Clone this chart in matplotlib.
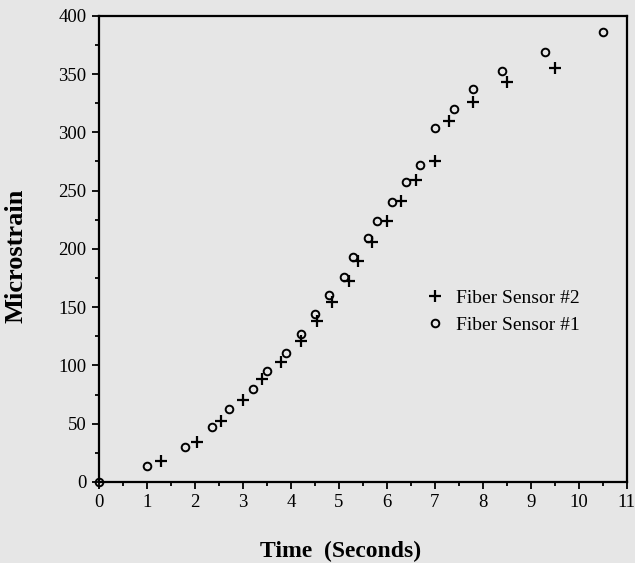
import matplotlib
matplotlib.use("Agg")
import matplotlib.pyplot as plt
from matplotlib.ticker import MultipleLocator

plt.rcParams['font.family'] = ['Liberation Serif', 'DejaVu Serif']

# Fiber Sensor #1 (circles)
time_s1 = [0, 1.0, 1.8, 2.35, 2.7, 3.2, 3.5, 3.9, 4.2, 4.5, 4.8, 5.1, 5.3,
           5.6, 5.8, 6.1, 6.4, 6.7, 7.0, 7.4, 7.8, 8.4, 9.3, 10.5]
strain_s1 = [0, 14, 30, 47, 63, 80, 95, 111, 127, 144, 160, 176, 193,
             209, 224, 240, 257, 272, 304, 320, 337, 353, 369, 386]

# Fiber Sensor #2 (plus)
time_s2 = [1.3, 2.05, 2.55, 3.0, 3.4, 3.8, 4.2, 4.55, 4.85, 5.2, 5.4, 5.7,
           6.0, 6.3, 6.6, 7.0, 7.3, 7.8, 8.5, 9.5]
strain_s2 = [18, 34, 52, 70, 88, 103, 121, 138, 154, 172, 190, 206,
             224, 241, 259, 275, 310, 326, 343, 355]

bg = '#e6e6e6'
fig = plt.figure(figsize=(6.35, 5.63), dpi=100, facecolor=bg)
ax = fig.add_axes([0.156, 0.144, 0.831, 0.828], facecolor=bg)

ax.plot(time_s2, strain_s2, linestyle='none', marker='+', ms=8, mew=1.6,
        color='black', label='Fiber Sensor #2', clip_on=False)
ax.plot(time_s1, strain_s1, linestyle='none', marker='o', ms=5.5, mew=1.4,
        mfc='none', mec='black', label='Fiber Sensor #1', clip_on=False)

ax.set_xlim(0, 11)
ax.set_ylim(0, 400)
ax.xaxis.set_major_locator(MultipleLocator(1))
ax.xaxis.set_minor_locator(MultipleLocator(0.5))
ax.yaxis.set_major_locator(MultipleLocator(50))
ax.yaxis.set_minor_locator(MultipleLocator(25))
ax.tick_params(which='major', direction='out', length=5, width=1.3,
               labelsize=13.5, pad=4)
ax.tick_params(which='minor', direction='out', length=3, width=1.3)

for s in ax.spines.values():
    s.set_linewidth(1.6)

ax.set_xlabel('Time  (Seconds)', fontsize=17, fontweight='bold')
ax.set_ylabel('Microstrain', fontsize=19, fontweight='bold')
ax.xaxis.set_label_coords(0.458, -0.127)
ax.yaxis.set_label_coords(-0.136, 0.485)

ax.legend(loc='upper left', bbox_to_anchor=(0.585, 0.45), frameon=False,
          fontsize=14, handletextpad=0.6, labelspacing=0.45,
          handlelength=1.0)

fig.savefig('out.png', dpi=100, facecolor=bg)
